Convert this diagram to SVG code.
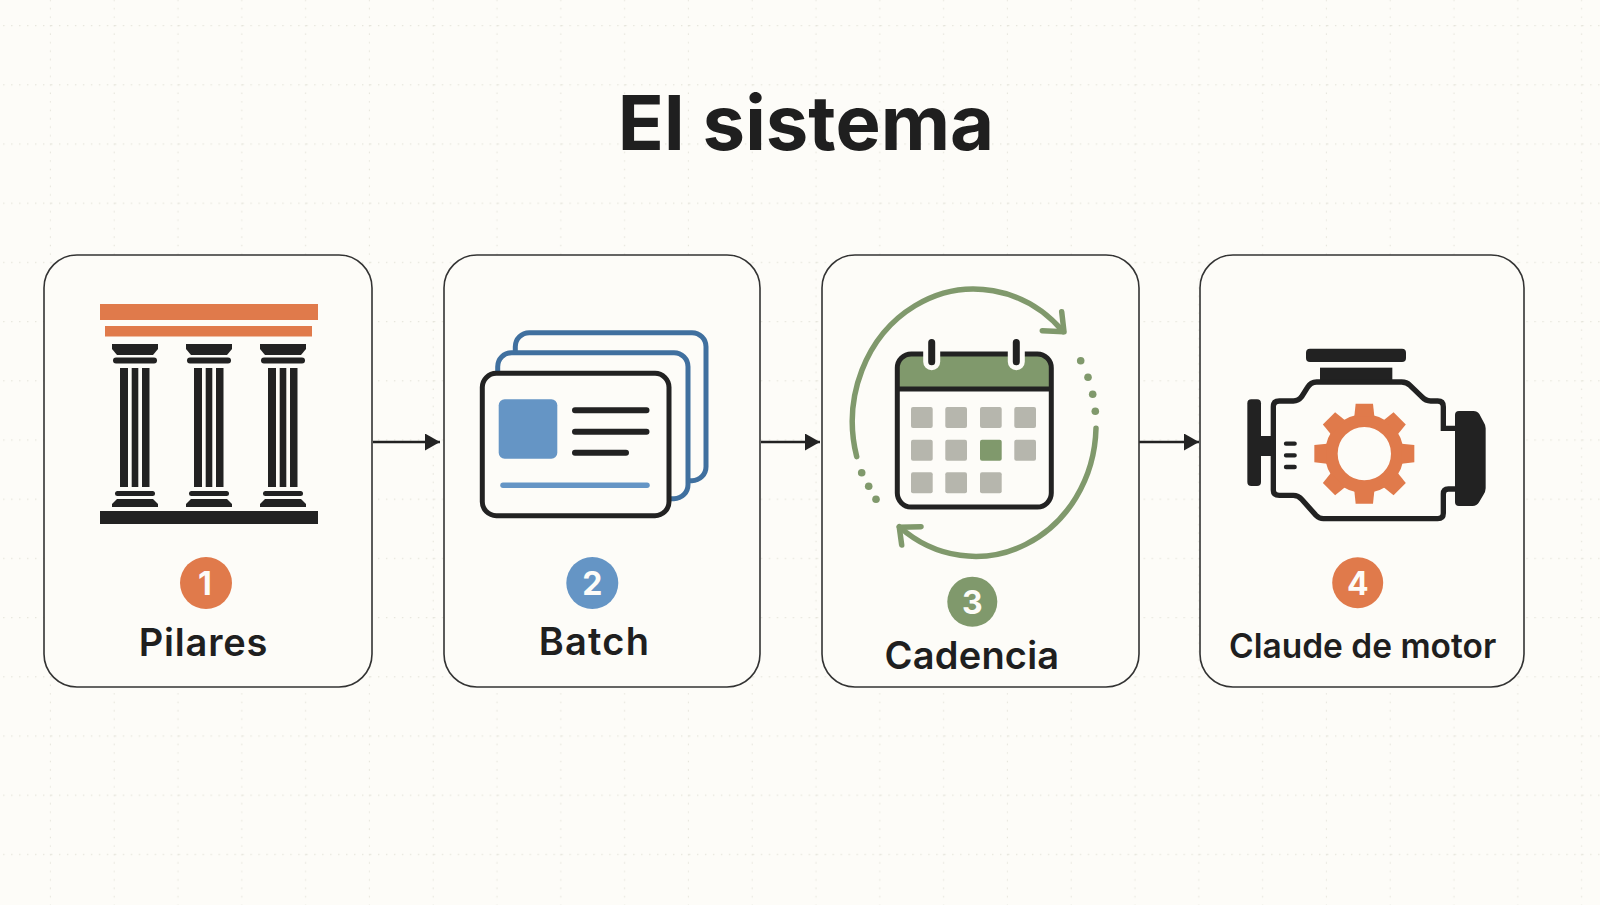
<svg xmlns="http://www.w3.org/2000/svg" width="1600" height="905" viewBox="0 0 1600 905">
<style>
text{font-family:Inter,"Liberation Sans",sans-serif;text-anchor:middle;fill:#1f1f1f}
.card{fill:#fdfcf8;stroke:#333;stroke-width:1.6}
.label{font-weight:600}
.num{fill:#fdfcf8;font-weight:700;font-size:32px}
.dk{fill:#222}
.or{fill:#e07a4b}
.bl{fill:#6595c5}
.gr{fill:#80996c}
.sq{fill:#b6b6ad}
.conn{stroke:#222;stroke-width:2.6;fill:none;marker-end:url(#ah)}
.grn{fill:none;stroke:#80996c;stroke-width:5.500;stroke-linecap:round;stroke-linejoin:round}
.ln{stroke:#222;stroke-width:6;stroke-linecap:round}
</style>
<defs>
<pattern id="grid" x="-12.8" y="25" width="63.8" height="59.2" patternUnits="userSpaceOnUse">
<path d="M0 .5H63.8" stroke="#e6e5dc" stroke-width="1.3" stroke-dasharray="1.4 6.575"/>
<path d="M63.3 0V59.2" stroke="#e6e5dc" stroke-width="1.3" stroke-dasharray="1.4 7.06"/>
</pattern>
<marker id="ah" markerUnits="userSpaceOnUse" markerWidth="16" markerHeight="18" refX="15" refY="8.5" orient="auto">
<path d="M0 0L15 8.5L0 17Z" fill="#222"/>
</marker>
<g id="col">
<path class="dk" d="M-23 344H23V349L18 355H-18L-23 349Z"/>
<rect class="dk" x="-22" y="357.500" width="44" height="6" rx="3"/>
<rect class="dk" x="-15" y="368" width="8" height="119"/>
<rect class="dk" x="-3.300" y="368" width="6.600" height="119"/>
<rect class="dk" x="7" y="368" width="7.500" height="119"/>
<rect class="dk" x="-20" y="491" width="40" height="5" rx="2.500"/>
<path class="dk" d="M-18 499H18L23 504V507H-23V504Z"/>
</g>
<path id="tooth" class="or" d="M-30 -112L-26 -150H26L30 -112Z"/>
</defs>
<rect width="1600" height="905" fill="#fdfcf8"/>
<rect width="1600" height="905" fill="url(#grid)"/>
<text x="806" y="150" font-size="76" font-weight="700">El sistema</text>

<g id="connectors">
<path class="conn" d="M373 442H440"/>
<path class="conn" d="M761 442H820"/>
<path class="conn" d="M1139 442H1199"/>
</g>

<g id="node-1">
<rect class="card" x="44" y="255" width="328" height="432" rx="33"/>
<rect class="or" x="100" y="304" width="218" height="16"/>
<rect class="or" x="105" y="326" width="207" height="10.500"/>
<use href="#col" x="135"/>
<use href="#col" x="209"/>
<use href="#col" x="283"/>
<rect class="dk" x="100" y="511" width="218" height="13"/>
<circle class="or" cx="206" cy="583" r="26"/>
<text class="num" x="205" y="595">1</text>
<text class="label" x="203.500" y="656" font-size="38" letter-spacing=".8">Pilares</text>
</g>

<g id="node-2">
<rect class="card" x="444" y="255" width="316" height="432" rx="33"/>
<rect x="515.300" y="332.700" width="190.700" height="148" rx="14" fill="#fdfcf8" stroke="#40709f" stroke-width="5"/>
<rect x="497.700" y="352.700" width="190.300" height="146" rx="14" fill="#fdfcf8" stroke="#40709f" stroke-width="5"/>
<rect x="482.300" y="373.300" width="186.700" height="142.400" rx="14" fill="#fdfcf8" stroke="#222" stroke-width="5"/>
<rect class="bl" x="498.700" y="399.300" width="58.600" height="59.400" rx="6"/>
<path class="ln" d="M575 410.300H646.500M575 431.700H646.500M575 452.700H626"/>
<path d="M503 485.300H647" stroke="#6595c5" stroke-width="5.500" stroke-linecap="round"/>
<circle class="bl" cx="592.300" cy="583" r="26"/>
<text class="num" x="592.300" y="595">2</text>
<text class="label" x="594.500" y="655" font-size="38" font-weight="700" letter-spacing="1.2">Batch</text>
</g>

<g id="node-3">
<rect class="card" x="822" y="255" width="317" height="432" rx="33"/>
<path class="grn" d="M856.700 456.700A121.600 132.600 0 0 1 1063.300 331.700"/>
<path class="grn" d="M1061.700 311.700L1064 331.700L1042.300 330.700"/>
<path class="grn" d="M1096 428.300A120.500 131.500 0 0 1 899.300 526.700"/>
<path class="grn" d="M921 526.700L899.300 527.300L901.700 545"/>
<g class="gr">
<circle cx="1080.700" cy="360.700" r="3.800"/><circle cx="1088" cy="377.300" r="3.800"/><circle cx="1092.700" cy="394.300" r="3.800"/><circle cx="1095.300" cy="411.300" r="3.800"/>
<circle cx="861.700" cy="472.700" r="3.800"/><circle cx="868.700" cy="486.300" r="3.800"/><circle cx="876" cy="499.300" r="3.800"/>
</g>
<rect x="897.300" y="354" width="154" height="153" rx="14" fill="#fdfcf8"/>
<path class="gr" d="M897.300 389V368a14 14 0 0 1 14-14H1037.300a14 14 0 0 1 14 14V389Z"/>
<rect x="897.300" y="354" width="154" height="153" rx="14" fill="none" stroke="#222" stroke-width="5"/>
<path d="M897.300 389H1051.300" stroke="#222" stroke-width="5"/>
<path d="M931.700 346V361.700M1016.300 346V361.700" stroke="#fdfcf8" stroke-width="17" stroke-linecap="round"/>
<path d="M931.700 342.500V361.700M1016.300 342.500V361.700" stroke="#222" stroke-width="7" stroke-linecap="round"/>
<g class="sq">
<rect x="911" y="407" width="21.700" height="21" rx="2"/><rect x="945.300" y="407" width="21.700" height="21" rx="2"/><rect x="980" y="407" width="21.700" height="21" rx="2"/><rect x="1014.300" y="407" width="21.700" height="21" rx="2"/>
<rect x="911" y="439.700" width="21.700" height="21" rx="2"/><rect x="945.300" y="439.700" width="21.700" height="21" rx="2"/><rect class="gr" x="980" y="439.700" width="21.700" height="21" rx="2"/><rect x="1014.300" y="439.700" width="21.700" height="21" rx="2"/>
<rect x="911" y="472.300" width="21.700" height="21" rx="2"/><rect x="945.300" y="472.300" width="21.700" height="21" rx="2"/><rect x="980" y="472.300" width="21.700" height="21" rx="2"/>
</g>
<circle class="gr" cx="972.300" cy="601.700" r="25"/>
<text class="num" x="972.300" y="613.500">3</text>
<text class="label" x="972" y="669.300" font-size="38" font-weight="700" letter-spacing=".2">Cadencia</text>
</g>

<g id="node-4">
<rect class="card" x="1200" y="255" width="324" height="432" rx="33"/>
<g transform="translate(1190 240) scale(.33333)">
<rect class="dk" x="348" y="326" width="300" height="40" rx="12"/>
<rect class="dk" x="390" y="383" width="217" height="40"/>
<path d="M268 483H310Q325 483 335 470L352 443Q362 426 380 426H635Q650 426 660 436L695 470Q707 483 722 483H743Q760 483 760 500V565H795M795 747H775Q760 747 760 762V820Q760 836 743 836H400Q388 836 378 826L335 778Q325 766 310 766H268Q250 766 250 750V500Q250 483 268 483" fill="none" stroke="#222" stroke-width="16"/>
<rect class="dk" x="172" y="478" width="41" height="260" rx="12"/>
<rect class="dk" x="210" y="588" width="40" height="60"/>
<path class="dk" d="M795 525Q795 513 807 513H850Q862 513 868 522L882 548Q887 555 887 565V745Q887 755 880 765L868 785Q860 798 848 798H807Q795 798 795 786Z"/>
<path d="M288 611H314M288 646H314M288 681H314" stroke="#222" stroke-width="13" stroke-linecap="round"/>
<g transform="translate(523 641)">
<circle r="99" fill="none" stroke="#e07a4b" stroke-width="38"/>
<use href="#tooth"/><use href="#tooth" transform="rotate(45)"/><use href="#tooth" transform="rotate(90)"/><use href="#tooth" transform="rotate(135)"/><use href="#tooth" transform="rotate(180)"/><use href="#tooth" transform="rotate(225)"/><use href="#tooth" transform="rotate(270)"/><use href="#tooth" transform="rotate(315)"/>
</g>
</g>
<circle class="or" cx="1357.700" cy="582.700" r="25.500"/>
<text class="num" x="1357.700" y="594.500">4</text>
<text class="label" x="1362.600" y="657.700" font-size="33.500">Claude de motor</text>
</g>
</svg>
